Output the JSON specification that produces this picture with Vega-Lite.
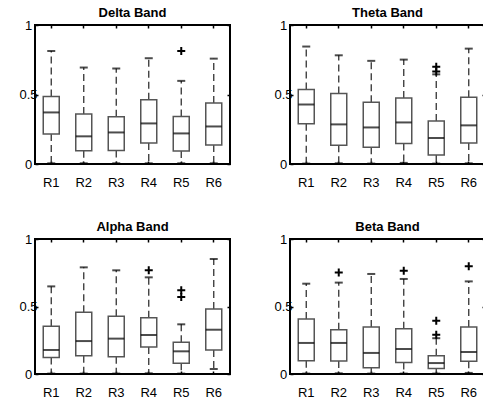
{
  "$schema": "https://vega.github.io/schema/vega-lite/v6.json",
  "padding": {"left": 17, "top": 6, "right": 0, "bottom": 0},
  "background": "white",
  "datasets": {
    "all": [
      {"band": "Delta", "region": "R1", "lower": 0.005, "q1": 0.215, "median": 0.371, "q3": 0.486, "upper": 0.813},
      {"band": "Delta", "region": "R2", "lower": 0.005, "q1": 0.096, "median": 0.199, "q3": 0.359, "upper": 0.694},
      {"band": "Delta", "region": "R3", "lower": 0.005, "q1": 0.098, "median": 0.227, "q3": 0.340, "upper": 0.687},
      {"band": "Delta", "region": "R4", "lower": 0.005, "q1": 0.151, "median": 0.292, "q3": 0.462, "upper": 0.761},
      {"band": "Delta", "region": "R5", "lower": 0.005, "q1": 0.093, "median": 0.220, "q3": 0.342, "upper": 0.598},
      {"band": "Delta", "region": "R6", "lower": 0.005, "q1": 0.136, "median": 0.270, "q3": 0.438, "upper": 0.758},
      {"band": "Delta", "region": "R5", "value": 0.813},
      {"band": "Theta", "region": "R1", "lower": 0.003, "q1": 0.289, "median": 0.428, "q3": 0.536, "upper": 0.845},
      {"band": "Theta", "region": "R2", "lower": 0.005, "q1": 0.134, "median": 0.285, "q3": 0.507, "upper": 0.782},
      {"band": "Theta", "region": "R3", "lower": 0.003, "q1": 0.120, "median": 0.263, "q3": 0.445, "upper": 0.742},
      {"band": "Theta", "region": "R4", "lower": 0.008, "q1": 0.148, "median": 0.299, "q3": 0.474, "upper": 0.751},
      {"band": "Theta", "region": "R5", "lower": 0.003, "q1": 0.065, "median": 0.187, "q3": 0.309, "upper": 0.645},
      {"band": "Theta", "region": "R6", "lower": 0.005, "q1": 0.151, "median": 0.278, "q3": 0.481, "upper": 0.830},
      {"band": "Theta", "region": "R5", "value": 0.70},
      {"band": "Theta", "region": "R5", "value": 0.665},
      {"band": "Alpha", "region": "R1", "lower": 0.003, "q1": 0.123, "median": 0.178, "q3": 0.353, "upper": 0.649},
      {"band": "Alpha", "region": "R2", "lower": 0.003, "q1": 0.136, "median": 0.244, "q3": 0.457, "upper": 0.790},
      {"band": "Alpha", "region": "R3", "lower": 0.003, "q1": 0.128, "median": 0.262, "q3": 0.427, "upper": 0.768},
      {"band": "Alpha", "region": "R4", "lower": 0.005, "q1": 0.200, "median": 0.289, "q3": 0.417, "upper": 0.716},
      {"band": "Alpha", "region": "R5", "lower": 0.003, "q1": 0.079, "median": 0.168, "q3": 0.235, "upper": 0.368},
      {"band": "Alpha", "region": "R6", "lower": 0.037, "q1": 0.178, "median": 0.328, "q3": 0.481, "upper": 0.852},
      {"band": "Alpha", "region": "R4", "value": 0.768},
      {"band": "Alpha", "region": "R5", "value": 0.62},
      {"band": "Alpha", "region": "R5", "value": 0.57},
      {"band": "Beta", "region": "R1", "lower": 0.003, "q1": 0.099, "median": 0.230, "q3": 0.407, "upper": 0.669},
      {"band": "Beta", "region": "R2", "lower": 0.005, "q1": 0.096, "median": 0.230, "q3": 0.328, "upper": 0.677},
      {"band": "Beta", "region": "R3", "lower": 0.003, "q1": 0.047, "median": 0.156, "q3": 0.348, "upper": 0.741},
      {"band": "Beta", "region": "R4", "lower": 0.003, "q1": 0.086, "median": 0.185, "q3": 0.336, "upper": 0.704},
      {"band": "Beta", "region": "R5", "lower": 0.003, "q1": 0.040, "median": 0.081, "q3": 0.136, "upper": 0.265},
      {"band": "Beta", "region": "R6", "lower": 0.008, "q1": 0.094, "median": 0.163, "q3": 0.348, "upper": 0.686},
      {"band": "Beta", "region": "R2", "value": 0.751},
      {"band": "Beta", "region": "R4", "value": 0.765},
      {"band": "Beta", "region": "R5", "value": 0.395},
      {"band": "Beta", "region": "R5", "value": 0.29},
      {"band": "Beta", "region": "R6", "value": 0.798}
    ]
  },
  "data": {"name": "all"},
  "columns": 2,
  "spacing": {"row": 75, "column": 60},
  "bounds": "flush",
  "concat": [
    {
      "title": "Delta Band",
      "width": 195, "height": 139,
      "transform": [{"filter": "datum.band === 'Delta'"}],
      "layer": [
        {
          "encoding": {"x": {"field": "region", "type": "nominal", "scale": {"domain": ["R1","R2","R3","R4","R5","R6"], "paddingInner": 0, "paddingOuter": 0}, "axis": {"title": null, "labelAngle": 0}}},
          "layer": [
            {"mark": {"type": "rule", "strokeDash": [7, 4], "color": "#333333", "strokeWidth": 1.3}, "encoding": {"y": {"field": "q3", "type": "quantitative", "scale": {"domain": [0, 1]}, "axis": {"title": null, "values": [0, 0.5, 1], "format": "~g"}}, "y2": {"field": "upper"}}},
            {"mark": {"type": "rule", "strokeDash": [7, 4], "color": "#333333", "strokeWidth": 1.3}, "encoding": {"y": {"field": "q1", "type": "quantitative", "axis": {"title": null}}, "y2": {"field": "lower"}}},
            {"mark": {"type": "bar", "fill": "white", "stroke": "#555555", "strokeWidth": 1.5, "size": 16}, "encoding": {"y": {"field": "q1", "type": "quantitative", "axis": {"title": null}}, "y2": {"field": "q3"}}},
            {"mark": {"type": "tick", "color": "black", "thickness": 2, "size": 16}, "encoding": {"y": {"field": "median", "type": "quantitative", "axis": {"title": null}}}},
            {"mark": {"type": "tick", "color": "black", "thickness": 2, "size": 8}, "encoding": {"y": {"field": "upper", "type": "quantitative", "axis": {"title": null}}}},
            {"mark": {"type": "tick", "color": "black", "thickness": 2, "size": 8}, "encoding": {"y": {"field": "lower", "type": "quantitative", "axis": {"title": null}}}},
            {"mark": {"type": "point", "shape": "M-1,0H1M0,-1V1", "filled": false, "stroke": "black", "strokeWidth": 2, "size": 64, "opacity": 1}, "encoding": {"y": {"field": "value", "type": "quantitative", "axis": {"title": null}}}}
          ]
        },
        {
          "mark": {"type": "tick", "opacity": 0},
          "encoding": {
            "x": {"field": "region", "type": "nominal", "axis": {"orient": "top", "title": null, "labels": false}},
            "y": {"field": "median", "type": "quantitative", "axis": {"orient": "right", "title": null, "labels": false, "values": [0, 0.5, 1]}}
          }
        }
      ],
      "resolve": {"axis": {"x": "independent", "y": "independent"}}
    },
    {
      "title": "Theta Band",
      "width": 195, "height": 139,
      "transform": [{"filter": "datum.band === 'Theta'"}],
      "layer": [
        {
          "encoding": {"x": {"field": "region", "type": "nominal", "scale": {"domain": ["R1","R2","R3","R4","R5","R6"], "paddingInner": 0, "paddingOuter": 0}, "axis": {"title": null, "labelAngle": 0}}},
          "layer": [
            {"mark": {"type": "rule", "strokeDash": [7, 4], "color": "#333333", "strokeWidth": 1.3}, "encoding": {"y": {"field": "q3", "type": "quantitative", "scale": {"domain": [0, 1]}, "axis": {"title": null, "values": [0, 0.5, 1], "format": "~g"}}, "y2": {"field": "upper"}}},
            {"mark": {"type": "rule", "strokeDash": [7, 4], "color": "#333333", "strokeWidth": 1.3}, "encoding": {"y": {"field": "q1", "type": "quantitative", "axis": {"title": null}}, "y2": {"field": "lower"}}},
            {"mark": {"type": "bar", "fill": "white", "stroke": "#555555", "strokeWidth": 1.5, "size": 16}, "encoding": {"y": {"field": "q1", "type": "quantitative", "axis": {"title": null}}, "y2": {"field": "q3"}}},
            {"mark": {"type": "tick", "color": "black", "thickness": 2, "size": 16}, "encoding": {"y": {"field": "median", "type": "quantitative", "axis": {"title": null}}}},
            {"mark": {"type": "tick", "color": "black", "thickness": 2, "size": 8}, "encoding": {"y": {"field": "upper", "type": "quantitative", "axis": {"title": null}}}},
            {"mark": {"type": "tick", "color": "black", "thickness": 2, "size": 8}, "encoding": {"y": {"field": "lower", "type": "quantitative", "axis": {"title": null}}}},
            {"mark": {"type": "point", "shape": "M-1,0H1M0,-1V1", "filled": false, "stroke": "black", "strokeWidth": 2, "size": 64, "opacity": 1}, "encoding": {"y": {"field": "value", "type": "quantitative", "axis": {"title": null}}}}
          ]
        },
        {
          "mark": {"type": "tick", "opacity": 0},
          "encoding": {
            "x": {"field": "region", "type": "nominal", "axis": {"orient": "top", "title": null, "labels": false}},
            "y": {"field": "median", "type": "quantitative", "axis": {"orient": "right", "title": null, "labels": false, "values": [0, 0.5, 1]}}
          }
        }
      ],
      "resolve": {"axis": {"x": "independent", "y": "independent"}}
    },
    {
      "title": "Alpha Band",
      "width": 195, "height": 135,
      "transform": [{"filter": "datum.band === 'Alpha'"}],
      "layer": [
        {
          "encoding": {"x": {"field": "region", "type": "nominal", "scale": {"domain": ["R1","R2","R3","R4","R5","R6"], "paddingInner": 0, "paddingOuter": 0}, "axis": {"title": null, "labelAngle": 0}}},
          "layer": [
            {"mark": {"type": "rule", "strokeDash": [7, 4], "color": "#333333", "strokeWidth": 1.3}, "encoding": {"y": {"field": "q3", "type": "quantitative", "scale": {"domain": [0, 1]}, "axis": {"title": null, "values": [0, 0.5, 1], "format": "~g"}}, "y2": {"field": "upper"}}},
            {"mark": {"type": "rule", "strokeDash": [7, 4], "color": "#333333", "strokeWidth": 1.3}, "encoding": {"y": {"field": "q1", "type": "quantitative", "axis": {"title": null}}, "y2": {"field": "lower"}}},
            {"mark": {"type": "bar", "fill": "white", "stroke": "#555555", "strokeWidth": 1.5, "size": 16}, "encoding": {"y": {"field": "q1", "type": "quantitative", "axis": {"title": null}}, "y2": {"field": "q3"}}},
            {"mark": {"type": "tick", "color": "black", "thickness": 2, "size": 16}, "encoding": {"y": {"field": "median", "type": "quantitative", "axis": {"title": null}}}},
            {"mark": {"type": "tick", "color": "black", "thickness": 2, "size": 8}, "encoding": {"y": {"field": "upper", "type": "quantitative", "axis": {"title": null}}}},
            {"mark": {"type": "tick", "color": "black", "thickness": 2, "size": 8}, "encoding": {"y": {"field": "lower", "type": "quantitative", "axis": {"title": null}}}},
            {"mark": {"type": "point", "shape": "M-1,0H1M0,-1V1", "filled": false, "stroke": "black", "strokeWidth": 2, "size": 64, "opacity": 1}, "encoding": {"y": {"field": "value", "type": "quantitative", "axis": {"title": null}}}}
          ]
        },
        {
          "mark": {"type": "tick", "opacity": 0},
          "encoding": {
            "x": {"field": "region", "type": "nominal", "axis": {"orient": "top", "title": null, "labels": false}},
            "y": {"field": "median", "type": "quantitative", "axis": {"orient": "right", "title": null, "labels": false, "values": [0, 0.5, 1]}}
          }
        }
      ],
      "resolve": {"axis": {"x": "independent", "y": "independent"}}
    },
    {
      "title": "Beta Band",
      "width": 195, "height": 135,
      "transform": [{"filter": "datum.band === 'Beta'"}],
      "layer": [
        {
          "encoding": {"x": {"field": "region", "type": "nominal", "scale": {"domain": ["R1","R2","R3","R4","R5","R6"], "paddingInner": 0, "paddingOuter": 0}, "axis": {"title": null, "labelAngle": 0}}},
          "layer": [
            {"mark": {"type": "rule", "strokeDash": [7, 4], "color": "#333333", "strokeWidth": 1.3}, "encoding": {"y": {"field": "q3", "type": "quantitative", "scale": {"domain": [0, 1]}, "axis": {"title": null, "values": [0, 0.5, 1], "format": "~g"}}, "y2": {"field": "upper"}}},
            {"mark": {"type": "rule", "strokeDash": [7, 4], "color": "#333333", "strokeWidth": 1.3}, "encoding": {"y": {"field": "q1", "type": "quantitative", "axis": {"title": null}}, "y2": {"field": "lower"}}},
            {"mark": {"type": "bar", "fill": "white", "stroke": "#555555", "strokeWidth": 1.5, "size": 16}, "encoding": {"y": {"field": "q1", "type": "quantitative", "axis": {"title": null}}, "y2": {"field": "q3"}}},
            {"mark": {"type": "tick", "color": "black", "thickness": 2, "size": 16}, "encoding": {"y": {"field": "median", "type": "quantitative", "axis": {"title": null}}}},
            {"mark": {"type": "tick", "color": "black", "thickness": 2, "size": 8}, "encoding": {"y": {"field": "upper", "type": "quantitative", "axis": {"title": null}}}},
            {"mark": {"type": "tick", "color": "black", "thickness": 2, "size": 8}, "encoding": {"y": {"field": "lower", "type": "quantitative", "axis": {"title": null}}}},
            {"mark": {"type": "point", "shape": "M-1,0H1M0,-1V1", "filled": false, "stroke": "black", "strokeWidth": 2, "size": 64, "opacity": 1}, "encoding": {"y": {"field": "value", "type": "quantitative", "axis": {"title": null}}}}
          ]
        },
        {
          "mark": {"type": "tick", "opacity": 0},
          "encoding": {
            "x": {"field": "region", "type": "nominal", "axis": {"orient": "top", "title": null, "labels": false}},
            "y": {"field": "median", "type": "quantitative", "axis": {"orient": "right", "title": null, "labels": false, "values": [0, 0.5, 1]}}
          }
        }
      ],
      "resolve": {"axis": {"x": "independent", "y": "independent"}}
    }
  ],
  "config": {
    "font": "Liberation Sans",
    "view": {"stroke": "black", "strokeWidth": 2},
    "title": {"fontSize": 13, "fontWeight": "bold", "color": "black", "offset": -1, "font": "Liberation Sans"},
    "axis": {
      "domain": false,
      "grid": false,
      "tickSize": -3,
      "tickColor": "black",
      "tickWidth": 1.5,
      "labelFontSize": 13,
      "labelColor": "black",
      "labelFont": "Liberation Sans"
    },
    "axisLeft": {"labelAlign": "center", "labelPadding": 10, "labelBaseline": "middle"},
    "axisBottom": {"labelPadding": 15, "labelBaseline": "top"}
  }
}
